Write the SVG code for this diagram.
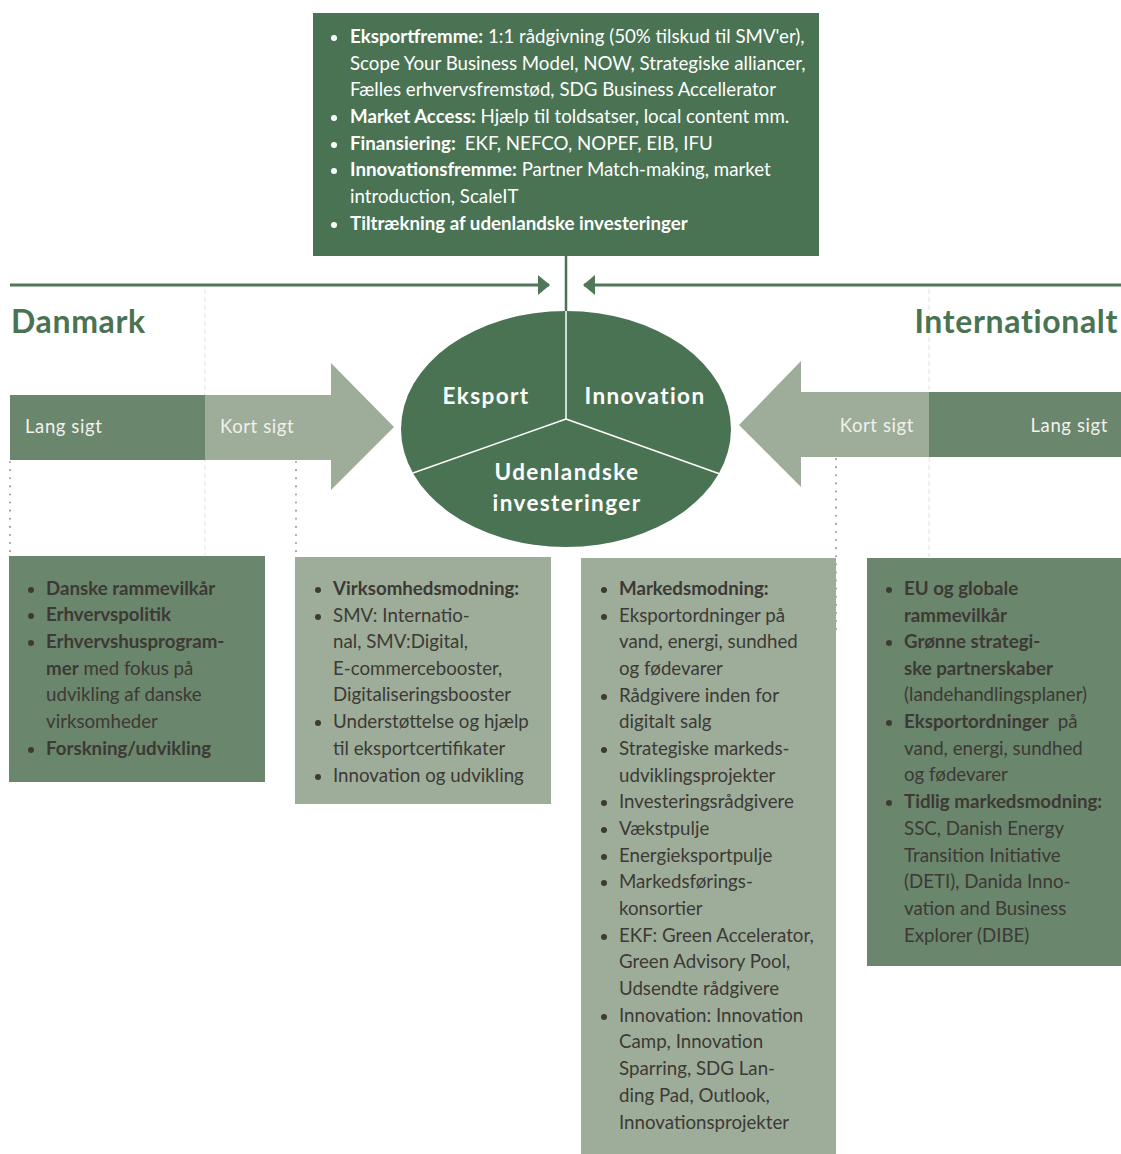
<svg xmlns="http://www.w3.org/2000/svg" width="1121" height="1154" viewBox="0 0 1121 1154">
<style>
text{font-family:Lato,"Open Sans","Liberation Sans",sans-serif}
.t{font-size:18.7px;fill:#3d3935}
.tw{font-size:18.7px;fill:#ffffff}
.b{font-weight:bold}
.bd{fill:#3d3935}
.bw{fill:#ffffff}
.dark{fill:#4a7353}
.mid{fill:#6a866c}
.light{fill:#9dad99}
.sig{font-size:18.5px;fill:#f1f1ec;letter-spacing:0.6px}
.ell{font-size:22.5px;font-weight:bold;fill:#ffffff;text-anchor:middle;letter-spacing:1.4px}
.title{font-size:32px;font-weight:bold;fill:#4a7353;letter-spacing:0.65px}
.dot{stroke:#8fa38f;stroke-width:2;stroke-linecap:round;stroke-dasharray:0.1 8;fill:none}
.faint{stroke:#e2e2e2;stroke-width:1;stroke-dasharray:5 3;fill:none}
.conn{stroke:#4f7758;stroke-width:3;fill:none}
</style>
<defs>
<marker id="ah" viewBox="0 0 12 20" refX="11" refY="10" markerWidth="12" markerHeight="20" markerUnits="userSpaceOnUse" orient="auto">
<path d="M0,0 L12,10 L0,20 Z" fill="#4f7758"/>
</marker>
</defs>

<rect width="1121" height="1154" fill="#ffffff"/>

<!-- guide lines -->
<g id="guides">
<line class="faint" x1="205" y1="289" x2="205" y2="555"/>
<line class="faint" x1="929" y1="289" x2="929" y2="557"/>
<line class="dot" x1="10" y1="462" x2="10" y2="555"/>
<line class="dot" x1="296" y1="462" x2="296" y2="556"/>
<line class="dot" x1="836" y1="459" x2="836" y2="636"/>
</g>

<!-- connectors -->
<g id="connectors">
<line class="conn" x1="10" y1="285" x2="549" y2="285" marker-end="url(#ah)"/>
<line class="conn" x1="1121" y1="285" x2="584" y2="285" marker-end="url(#ah)"/>
<line x1="566" y1="256" x2="566" y2="312" stroke="#4a7353" stroke-width="2.5"/>
</g>

<!-- titles -->
<g id="title-danmark"><text class="title" x="11" y="333">Danmark</text></g>
<g id="title-internationalt"><text class="title" x="1118" y="333" text-anchor="end">Internationalt</text></g>

<!-- left arrow -->
<g id="arrow-left">
<rect class="mid" x="10" y="395" width="195" height="65"/>
<polygon class="light" points="205,395 331,395 331,363 394,427 331,490 331,460 205,460"/>
<text class="sig" x="25" y="433">Lang sigt</text>
<text class="sig" x="220" y="433">Kort sigt</text>
</g>

<!-- right arrow -->
<g id="arrow-right">
<rect class="mid" x="928" y="392" width="193" height="65"/>
<polygon class="light" points="929,392 801,392 801,361 739,425 801,487 801,457 929,457"/>
<text class="sig" x="914" y="432" text-anchor="end">Kort sigt</text>
<text class="sig" x="1108" y="432" text-anchor="end">Lang sigt</text>
</g>

<!-- ellipse -->
<g id="center-ellipse">
<ellipse class="dark" cx="566" cy="429" rx="165" ry="118"/>
<g stroke="#ffffff" stroke-width="1.5" fill="none">
<line x1="566" y1="419" x2="566" y2="311"/>
<line x1="566" y1="419" x2="413" y2="473"/>
<line x1="566" y1="419" x2="720" y2="474"/>
</g>
<text class="ell" x="486" y="404">Eksport</text>
<text class="ell" x="645" y="404">Innovation</text>
<text class="ell" x="567" y="480">Udenlandske</text>
<text class="ell" x="567" y="511">investeringer</text>
</g>

<!-- top box -->
<g id="top-box">
<rect class="dark" x="313" y="13" width="506" height="243"/>
<g class="bw">
<circle cx="334" cy="38" r="3"/>
<circle cx="334" cy="118" r="3"/>
<circle cx="334" cy="145" r="3"/>
<circle cx="334" cy="171" r="3"/>
<circle cx="334" cy="225" r="3"/>
</g>
<text class="tw" x="350" y="43"><tspan class="b">Eksportfremme:</tspan> 1:1 rådgivning (50% tilskud til SMV'er),</text>
<text class="tw" x="350" y="70">Scope Your Business Model, NOW, Strategiske alliancer,</text>
<text class="tw" x="350" y="96">Fælles erhvervsfremstød, SDG Business Accellerator</text>
<text class="tw" x="350" y="123"><tspan class="b">Market Access:</tspan> Hjælp til toldsatser, local content mm.</text>
<text class="tw" x="350" y="150"><tspan class="b">Finansiering:</tspan><tspan dx="9">EKF, NEFCO, NOPEF, EIB, IFU</tspan></text>
<text class="tw" x="350" y="176"><tspan class="b">Innovationsfremme:</tspan> Partner Match-making, market</text>
<text class="tw" x="350" y="203">introduction, ScaleIT</text>
<text class="tw b" x="350" y="230">Tiltrækning af udenlandske investeringer</text>
</g>

<!-- box 1 -->
<g id="box-danmark-lang">
<rect class="mid" x="9" y="556" width="256" height="226"/>
<g class="bd">
<circle cx="31" cy="590" r="3"/>
<circle cx="31" cy="616" r="3"/>
<circle cx="31" cy="643" r="3"/>
<circle cx="31" cy="750" r="3"/>
</g>
<text class="t b" x="46" y="595">Danske rammevilkår</text>
<text class="t b" x="46" y="621">Erhvervspolitik</text>
<text class="t b" x="46" y="648">Erhvervshusprogram-</text>
<text class="t" x="46" y="675"><tspan class="b">mer</tspan> med fokus på</text>
<text class="t" x="46" y="701">udvikling af danske</text>
<text class="t" x="46" y="728">virksomheder</text>
<text class="t b" x="46" y="755">Forskning/udvikling</text>
</g>

<!-- box 2 -->
<g id="box-danmark-kort">
<rect class="light" x="295" y="557" width="256" height="247"/>
<g class="bd">
<circle cx="318" cy="590" r="3"/>
<circle cx="318" cy="617" r="3"/>
<circle cx="318" cy="723" r="3"/>
<circle cx="318" cy="777" r="3"/>
</g>
<text class="t b" x="333" y="595">Virksomhedsmodning:</text>
<text class="t" x="333" y="622">SMV: Internatio-</text>
<text class="t" x="333" y="648">nal, SMV:Digital,</text>
<text class="t" x="333" y="675">E-commercebooster,</text>
<text class="t" x="333" y="701">Digitaliseringsbooster</text>
<text class="t" x="333" y="728">Understøttelse og hjælp</text>
<text class="t" x="333" y="755">til eksportcertifikater</text>
<text class="t" x="333" y="782">Innovation og udvikling</text>
</g>

<!-- box 3 -->
<g id="box-international-kort">
<rect class="light" x="581" y="558" width="255" height="596"/>
<g class="bd">
<circle cx="604" cy="590" r="3"/>
<circle cx="604" cy="617" r="3"/>
<circle cx="604" cy="697" r="3"/>
<circle cx="604" cy="750" r="3"/>
<circle cx="604" cy="803" r="3"/>
<circle cx="604" cy="830" r="3"/>
<circle cx="604" cy="857" r="3"/>
<circle cx="604" cy="883" r="3"/>
<circle cx="604" cy="937" r="3"/>
<circle cx="604" cy="1017" r="3"/>
</g>
<text class="t b" x="619" y="595">Markedsmodning:</text>
<text class="t" x="619" y="622">Eksportordninger på</text>
<text class="t" x="619" y="648">vand, energi, sundhed</text>
<text class="t" x="619" y="675">og fødevarer</text>
<text class="t" x="619" y="702">Rådgivere inden for</text>
<text class="t" x="619" y="728">digitalt salg</text>
<text class="t" x="619" y="755">Strategiske markeds-</text>
<text class="t" x="619" y="782">udviklingsprojekter</text>
<text class="t" x="619" y="808">Investeringsrådgivere</text>
<text class="t" x="619" y="835">Vækstpulje</text>
<text class="t" x="619" y="862">Energieksportpulje</text>
<text class="t" x="619" y="888">Markedsførings-</text>
<text class="t" x="619" y="915">konsortier</text>
<text class="t" x="619" y="942">EKF: Green Accelerator,</text>
<text class="t" x="619" y="968">Green Advisory Pool,</text>
<text class="t" x="619" y="995">Udsendte rådgivere</text>
<text class="t" x="619" y="1022">Innovation: Innovation</text>
<text class="t" x="619" y="1048">Camp, Innovation</text>
<text class="t" x="619" y="1075">Sparring, SDG Lan-</text>
<text class="t" x="619" y="1102">ding Pad, Outlook,</text>
<text class="t" x="619" y="1129">Innovationsprojekter</text>
</g>

<!-- box 4 -->
<g id="box-international-lang">
<rect class="mid" x="867" y="558" width="254" height="408"/>
<g class="bd">
<circle cx="889" cy="590" r="3"/>
<circle cx="889" cy="643" r="3"/>
<circle cx="889" cy="723" r="3"/>
<circle cx="889" cy="803" r="3"/>
</g>
<text class="t b" x="904" y="595">EU og globale</text>
<text class="t b" x="904" y="622">rammevilkår</text>
<text class="t b" x="904" y="648">Grønne strategi-</text>
<text class="t b" x="904" y="675">ske partnerskaber</text>
<text class="t" x="904" y="701">(landehandlingsplaner)</text>
<text class="t" x="904" y="728"><tspan class="b">Eksportordninger</tspan><tspan dx="9">på</tspan></text>
<text class="t" x="904" y="755">vand, energi, sundhed</text>
<text class="t" x="904" y="781">og fødevarer</text>
<text class="t b" x="904" y="808">Tidlig markedsmodning:</text>
<text class="t" x="904" y="835">SSC, Danish Energy</text>
<text class="t" x="904" y="862">Transition Initiative</text>
<text class="t" x="904" y="888">(DETI), Danida Inno-</text>
<text class="t" x="904" y="915">vation and Business</text>
<text class="t" x="904" y="942">Explorer (DIBE)</text>
</g>
</svg>
